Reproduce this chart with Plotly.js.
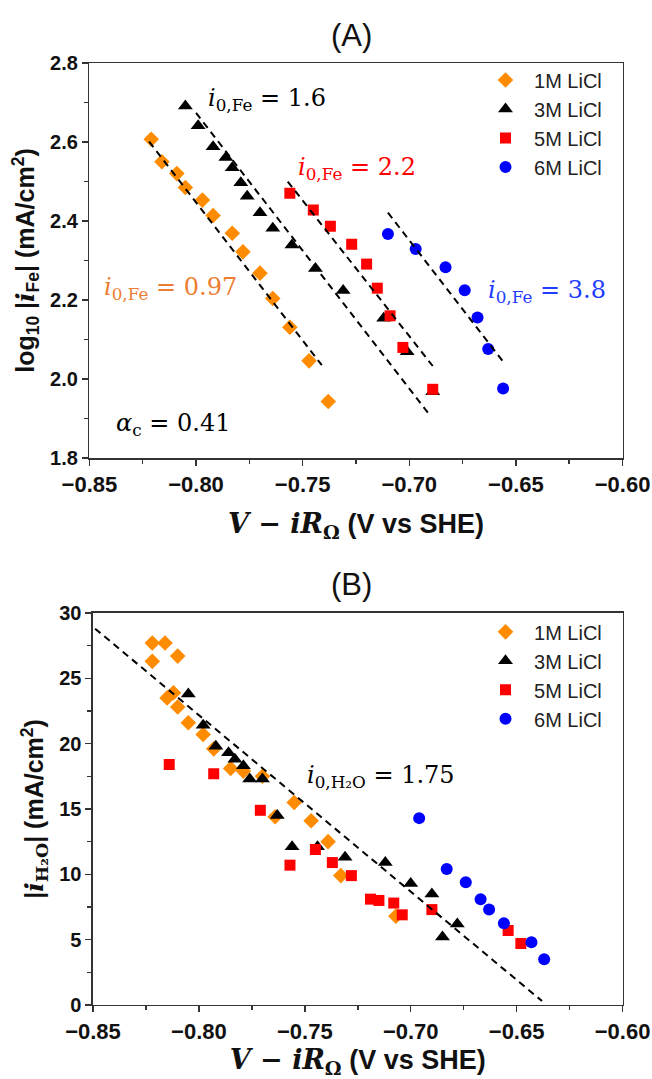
<!DOCTYPE html>
<html>
<head>
<meta charset="utf-8">
<script src="https://cdn.plot.ly/plotly-3.0.1.min.js"></script>
<style>html,body{margin:0;padding:0;background:#fff;}#chart{width:652px;height:1079px;}</style>
</head>
<body>
<div id="chart"></div>
<script>
// ---------- Panel A data: log10|i_Fe| vs V - iR ----------
var seriesNames = ['1M LiCl', '3M LiCl', '5M LiCl', '6M LiCl'];

var A_x1 = [-0.821,-0.816,-0.809,-0.805,-0.797,-0.792,-0.783,-0.778,-0.770,-0.764,-0.756,-0.747,-0.738];
var A_y1 = [2.607,2.550,2.520,2.485,2.453,2.414,2.369,2.322,2.268,2.204,2.131,2.046,1.943];
var A_x3 = [-0.805,-0.799,-0.792,-0.786,-0.783,-0.779,-0.776,-0.770,-0.764,-0.755,-0.744,-0.731,-0.712,-0.701,-0.689];
var A_y3 = [2.691,2.641,2.588,2.561,2.535,2.497,2.463,2.421,2.382,2.339,2.280,2.224,2.154,2.069,1.968];
var A_x5 = [-0.756,-0.745,-0.737,-0.727,-0.720,-0.715,-0.709,-0.703,-0.689];
var A_y5 = [2.470,2.428,2.387,2.341,2.291,2.230,2.160,2.080,1.974];
var A_x6 = [-0.710,-0.697,-0.683,-0.674,-0.668,-0.663,-0.656];
var A_y6 = [2.367,2.329,2.283,2.225,2.156,2.076,1.976];

// Tafel fit lines (endpoints)
var A_fit1_x = [-0.822,-0.741], A_fit1_y = [2.601,2.035];
var A_fit3_x = [-0.800,-0.691], A_fit3_y = [2.674,1.913];
var A_fit5_x = [-0.757,-0.689], A_fit5_y = [2.500,2.033];
var A_fit6_x = [-0.710,-0.656], A_fit6_y = [2.421,2.044];

// ---------- Panel B data: |i_H2O| vs V - iR ----------
var B_x1 = [-0.822,-0.816,-0.822,-0.810,-0.815,-0.812,-0.810,-0.805,-0.798,-0.793,-0.785,-0.779,-0.770,-0.764,-0.755,-0.747,-0.739,-0.733,-0.707];
var B_y1 = [27.7,27.7,26.3,26.7,23.5,23.9,22.8,21.6,20.7,19.6,18.1,17.9,17.5,14.4,15.5,14.1,12.5,9.9,6.8];
var B_x3 = [-0.805,-0.798,-0.792,-0.786,-0.783,-0.779,-0.776,-0.770,-0.763,-0.756,-0.744,-0.731,-0.712,-0.700,-0.690,-0.678,-0.685];
var B_y3 = [23.8,21.4,19.8,19.3,18.8,18.3,17.3,17.3,14.5,12.1,12.1,11.3,10.9,9.3,8.5,6.2,5.2];
var B_x5 = [-0.814,-0.793,-0.771,-0.757,-0.745,-0.737,-0.728,-0.719,-0.715,-0.708,-0.704,-0.690,-0.654,-0.648];
var B_y5 = [18.4,17.7,14.9,10.7,11.9,10.9,9.9,8.1,8.0,7.8,6.9,7.3,5.7,4.7];
var B_x6 = [-0.696,-0.683,-0.674,-0.667,-0.663,-0.656,-0.643,-0.637];
var B_y6 = [14.3,10.4,9.4,8.1,7.3,6.25,4.8,3.5];

var B_fit_x = [-0.849,-0.638], B_fit_y = [28.8,0.3];

// ---------- Styles ----------
var colors = ['#ff8c00', '#000000', '#ff0000', '#0000ff'];
var symbols = ['diamond', 'triangle-up', 'square', 'circle'];
var sizes = [12, 13, 11, 12];

var traces = [];
function addMarkers(xs, ys, idx, xa, ya, lg, grp) {
  traces.push({
    type: 'scatter', mode: 'markers', x: xs, y: ys, name: seriesNames[idx],
    xaxis: xa, yaxis: ya, legend: lg, legendgroup: grp + idx,
    marker: {color: colors[idx], symbol: symbols[idx], size: sizes[idx], line: {width: 0}}
  });
}
function addFit(xs, ys, xa, ya) {
  traces.push({
    type: 'scatter', mode: 'lines', x: xs, y: ys, xaxis: xa, yaxis: ya,
    showlegend: false, hoverinfo: 'skip',
    line: {color: '#000', width: 2, dash: '7px,5px'}
  });
}
addMarkers(A_x1, A_y1, 0, 'x', 'y', 'legend', 'a');
addMarkers(A_x3, A_y3, 1, 'x', 'y', 'legend', 'a');
addMarkers(A_x5, A_y5, 2, 'x', 'y', 'legend', 'a');
addMarkers(A_x6, A_y6, 3, 'x', 'y', 'legend', 'a');
addFit(A_fit1_x, A_fit1_y, 'x', 'y');
addFit(A_fit3_x, A_fit3_y, 'x', 'y');
addFit(A_fit5_x, A_fit5_y, 'x', 'y');
addFit(A_fit6_x, A_fit6_y, 'x', 'y');
addMarkers(B_x1, B_y1, 0, 'x2', 'y2', 'legend2', 'b');
addMarkers(B_x3, B_y3, 1, 'x2', 'y2', 'legend2', 'b');
addMarkers(B_x5, B_y5, 2, 'x2', 'y2', 'legend2', 'b');
addMarkers(B_x6, B_y6, 3, 'x2', 'y2', 'legend2', 'b');
addFit(B_fit_x, B_fit_y, 'x2', 'y2');

var SANS = 'Liberation Sans, Arial, sans-serif';
var SERIF = 'DejaVu Serif, Liberation Serif, serif';
var xTickFont = {family: SANS, size: 22, color: '#111', weight: 'bold'};
var yTickFont = {family: SANS, size: 20, color: '#111', weight: 'bold'};
var xTitleFont = {family: SANS, size: 27, color: '#111', weight: 'bold'};
var yTitleFont = {family: SANS, size: 25, color: '#111', weight: 'bold'};

function axisBase() {
  return {
    showgrid: false, zeroline: false, showline: true, mirror: true,
    linecolor: '#333', linewidth: 1.5, ticks: 'outside', ticklen: 6, tickwidth: 1.5,
    tickcolor: '#333', automargin: false
  };
}
var serifPart = function (s, w) { return '<span style="font-family:' + SERIF + ';font-weight:' + (w || 'bold') + '">' + s + '</span>'; };
var xTitle = serifPart('<i>V</i> − <i>iR</i><sub>Ω</sub>') + ' (V vs SHE)';

var xa1 = Object.assign(axisBase(), {
  domain: [0.1371, 0.9548], anchor: 'y', range: [-0.85, -0.60], dtick: 0.05, tickformat: '.2f',
  tickfont: xTickFont,
  minor: {dtick: 0.025, ticks: 'outside', ticklen: 4, tickwidth: 1.5, tickcolor: '#333'},
  title: {text: xTitle, font: xTitleFont, standoff: 18}
});
var ya1 = Object.assign(axisBase(), {
  domain: [0.5755, 0.9416], anchor: 'x', range: [1.8, 2.8], dtick: 0.2, tickformat: '.1f',
  tickfont: yTickFont,
  minor: {dtick: 0.1, ticks: 'outside', ticklen: 4, tickwidth: 1.5, tickcolor: '#333'},
  title: {text: 'log<sub>10</sub> |' + serifPart('<i>i</i>') + '<sub>Fe</sub>| (mA/cm<sup>2</sup>)', font: yTitleFont, standoff: 8}
});
var xa2 = Object.assign(axisBase(), {
  domain: [0.1426, 0.9548], anchor: 'y2', range: [-0.85, -0.60], dtick: 0.05, tickformat: '.2f',
  tickfont: xTickFont,
  minor: {dtick: 0.025, ticks: 'outside', ticklen: 4, tickwidth: 1.5, tickcolor: '#333'},
  title: {text: xTitle, font: xTitleFont, standoff: 25}
});
var ya2 = Object.assign(axisBase(), {
  domain: [0.0686, 0.4319], anchor: 'x2', range: [0, 30], dtick: 5, tickformat: 'd',
  tickfont: yTickFont,
  minor: {dtick: 2.5, ticks: 'outside', ticklen: 4, tickwidth: 1.5, tickcolor: '#333'},
  title: {text: '|' + serifPart('<i>i</i><sub>H₂O</sub>') + '| (mA/cm<sup>2</sup>)', font: yTitleFont, standoff: 8}
});

function legendCfg(y) {
  return {
    x: 0.7316, y: y, xanchor: 'left', yanchor: 'top', bgcolor: 'rgba(0,0,0,0)',
    font: {family: SANS, size: 20, color: '#222'},
    traceorder: 'grouped', tracegroupgap: 0, itemwidth: 47
  };
}

function ann(x, y, text, color) {
  return {xref: 'paper', yref: 'paper', x: x / 652, y: 1 - y / 1079, text: text, showarrow: false,
    xanchor: 'left', yanchor: 'middle',
    font: {family: SERIF, size: 24, color: color}};
}
var i0Fe = '<i>i</i><sub>0,Fe</sub> = ';

var layout = {
  width: 652, height: 1079,
  margin: {l: 0, r: 0, t: 0, b: 0},
  paper_bgcolor: '#fff', plot_bgcolor: '#fff',
  showlegend: true,
  xaxis: xa1, yaxis: ya1, xaxis2: xa2, yaxis2: ya2,
  legend: legendCfg(0.9439),
  legend2: legendCfg(0.4325),
  annotations: [
    {xref: 'paper', yref: 'paper', x: 351 / 652, y: 1 - 35 / 1079, text: '(A)', showarrow: false,
      xanchor: 'center', yanchor: 'middle', font: {family: SANS, size: 31, color: '#111'}},
    {xref: 'paper', yref: 'paper', x: 351 / 652, y: 1 - 584 / 1079, text: '(B)', showarrow: false,
      xanchor: 'center', yanchor: 'middle', font: {family: SANS, size: 31, color: '#111'}},
    ann(206, 99, i0Fe + '1.6', '#000'),
    ann(296, 168, i0Fe + '2.2', '#ff0000'),
    ann(102, 288, i0Fe + '0.97', '#ed7d31'),
    ann(486, 291, i0Fe + '3.8', '#1f3dff'),
    ann(114, 424, '<i>α</i><sub>c</sub> = 0.41', '#000'),
    ann(305, 776, '<i>i</i><sub>0,H₂O</sub> = 1.75', '#000')
  ]
};

Plotly.newPlot('chart', traces, layout, {staticPlot: true, displayModeBar: false});
</script>
</body>
</html>
